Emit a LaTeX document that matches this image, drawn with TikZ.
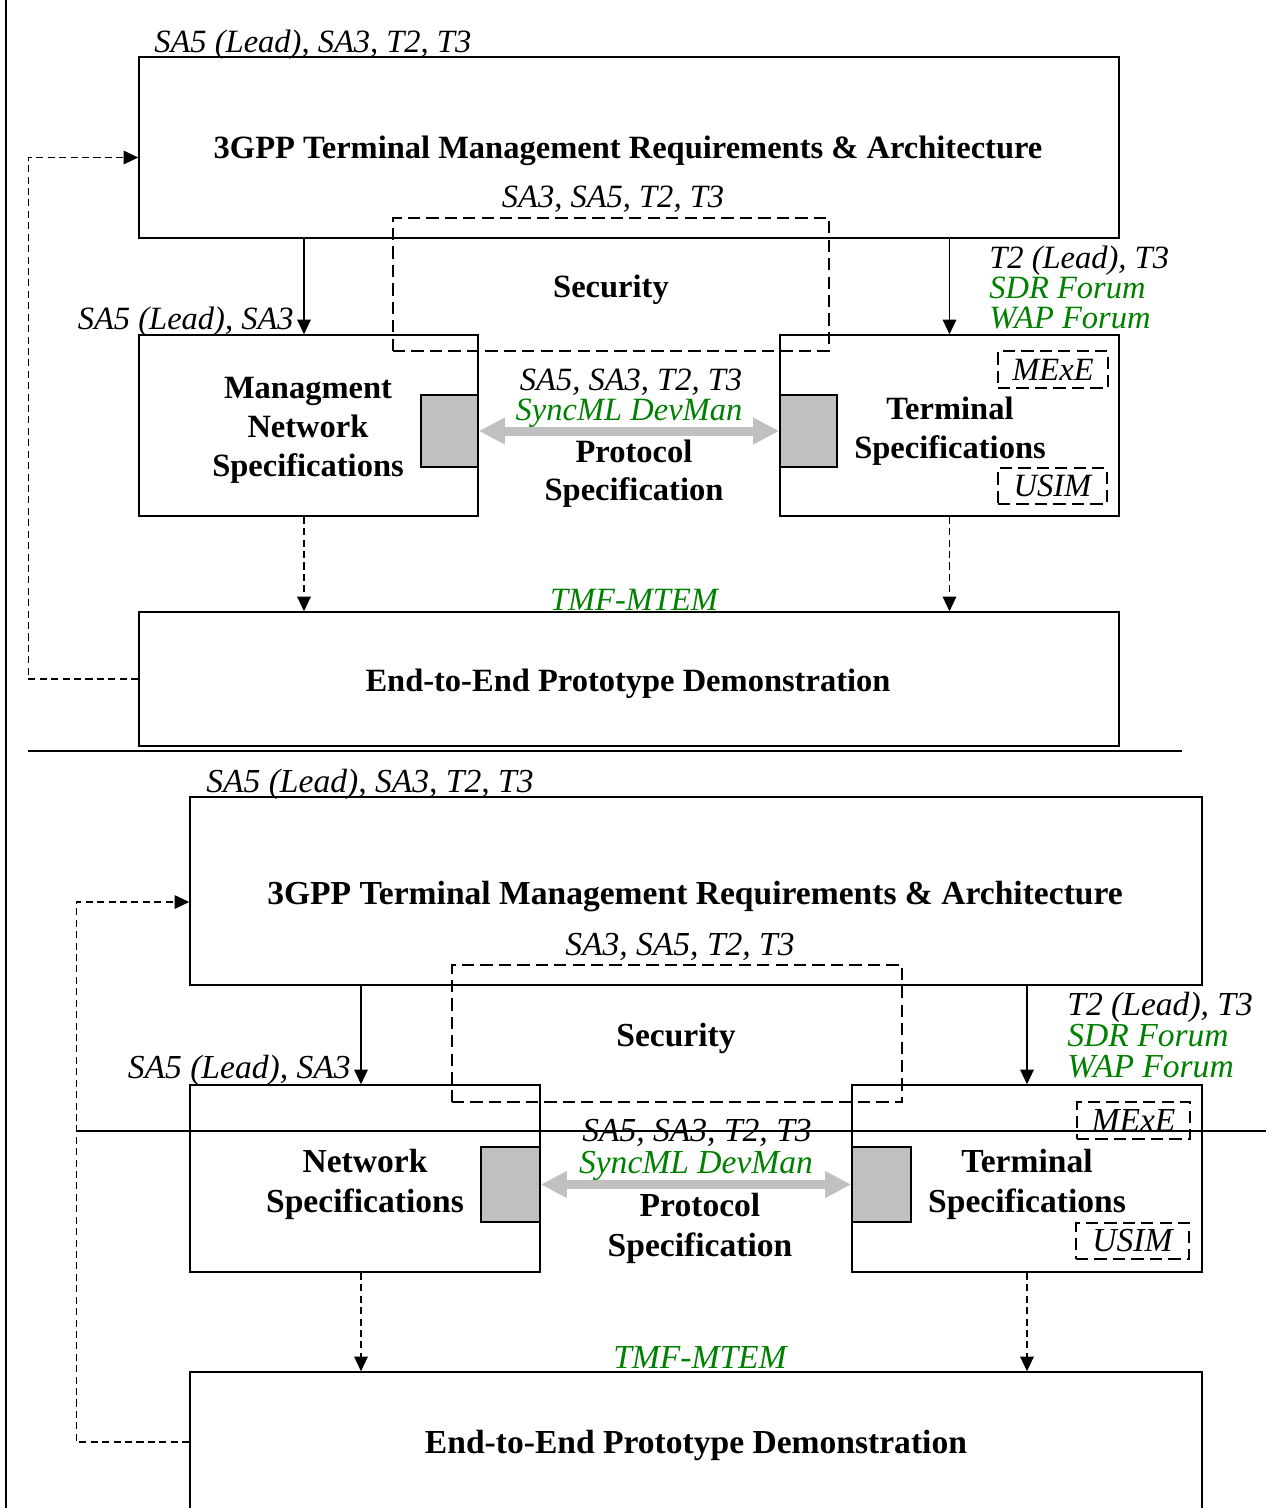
\documentclass[tikz,border=0pt]{standalone}
\usepackage{fontspec}
\setmainfont{Liberation Serif}
\usetikzlibrary{arrows.meta, positioning, fit, calc}

\newcommand{\topsize}{\fontsize{18.5}{22.2}\selectfont}
\newcommand{\botsize}{\fontsize{19.1}{22.8}\selectfont}
\newcommand{\dsize}{\topsize}

\begin{document}
\begin{tikzpicture}[x=0.2mm, y=-0.2mm,
    box/.style={draw, line width=0.9pt, inner sep=0pt},
    btxt/.style={inner sep=0pt, align=center, font=\dsize\bfseries},
    gate/.style={draw, line width=0.9pt, fill=silver, inner sep=0pt},
    dbox/.style={draw, line width=1pt, dash pattern=on 7pt off 3.5pt, inner sep=0pt},
    lbl/.style={inner sep=0pt, font=\dsize\itshape},
    glbl/.style={lbl, text=devgreen},
    feed/.style={-{Triangle[length=2.9mm, width=2.7mm]}, line width=0.6pt},
    dfeed/.style={feed, dash pattern=on 4pt off 2.5pt},
    sync/.style={{Triangle[length=5.2mm, width=5mm]}-{Triangle[length=5.2mm, width=5mm]}, line width=1.8mm, draw=silver},
    rule/.style={line width=1.2pt}]
    % Цвета
    \definecolor{silver}{RGB}{192,192,192}
    \definecolor{devgreen}{RGB}{0,128,0}

    \useasboundingbox (0,0) rectangle (1266,1508);

    %%%% Верхняя схема
    \begin{scope}
    % Требования и архитектура
    \node[box, fit={(139,57) (1119,238)}] (req) {};
    \node[btxt] (reqtxt) at (628,151) {3GPP Terminal Management Requirements \& Architecture};
    \node[lbl, anchor=base west] (reqlbl) at (154,52) {SA5 (Lead), SA3, T2, T3};

    % Безопасность
    \node[dbox, fit={(393,218) (829,351)}] (sec) {};
    \node[btxt] (sectxt) at (611,290) {Security};
    \node[lbl, anchor=base] (seclbl) at (613,207) {SA3, SA5, T2, T3};

    % Спецификации сети и терминала
    \node[box, fit={(139,335) (478,516)}] (net) {};
    \node[btxt] (nettxt) at (308,430) {Managment\\Network\\Specifications};
    \node[gate, fit={(421,395) (478,467)}] (ngate) {};
    \node[box, fit={(780,335) (1119,516)}] (term) {};
    \node[btxt] (termtxt) at (950,431) {Terminal\\Specifications};
    \node[gate, fit={(780,395) (837,467)}] (tgate) {};
    \node[dbox, fit={(998,351) (1108,388)}] (mexe) {};
    \node[lbl] (mexetxt) at (mexe.center) {MExE};
    \node[dbox, fit={(998,468) (1107,504)}] (usim) {};
    \node[lbl] (usimtxt) at (usim.center) {USIM};

    % Подписи
    \node[lbl, anchor=base east] (netlbl) at (294,329) {SA5 (Lead), SA3};
    \node[lbl, anchor=base west] (termlbl) at (989,268) {T2 (Lead), T3};
    \node[glbl, anchor=base west] (sdr) at (989,298) {SDR Forum};
    \node[glbl, anchor=base west] (wap) at (989,328) {WAP Forum};

    % Протокол
    \node[lbl, anchor=base] (protlbl) at (631,390) {SA5, SA3, T2, T3};
    \node[glbl, anchor=base] (syncml) at (629,420) {SyncML DevMan};
    \node[btxt, anchor=base] (prota) at (634,462) {Protocol};
    \node[btxt, anchor=base] (protb) at (634,500) {Specification};

    % Прототип
    \node[box, fit={(139,612) (1119,746)}] (end) {};
    \node[btxt] (endtxt) at (628,684) {End-to-End Prototype Demonstration};
    \node[glbl, anchor=base] (tmf) at (634,610) {TMF-MTEM};

    % Стрелки
    \coordinate (netx) at (304,0);
    \draw[feed] (req.south -| netx) -- (net.north -| netx);
    \draw[feed] (req.south -| term.north) -- (term.north);
    \draw[sync] (ngate.east) -- (tgate.west);
    \draw[dfeed] (net.south -| netx) -- (end.north -| netx);
    \draw[dfeed] (term.south) -- (term.south |- end.north);
    \coordinate (reqin) at ($(req.west)+(0,10)$);
    \draw[dfeed] (end.west) -| ($(reqin)+(-110,0)$) -- (reqin);
    \end{scope}

    %%%% Нижняя схема
    \begin{scope}
    \renewcommand{\dsize}{\botsize}
    % Требования и архитектура
    \node[box, fit={(190,797) (1202,985)}] (reqb) {};
    \node[btxt] (reqtxtb) at (695,897) {3GPP Terminal Management Requirements \& Architecture};
    \node[lbl, anchor=base west] (reqlblb) at (206,792) {SA5 (Lead), SA3, T2, T3};

    % Безопасность
    \node[dbox, fit={(452,965) (902,1102)}] (secb) {};
    \node[btxt] (sectxtb) at (676,1038) {Security};
    \node[lbl, anchor=base] (seclblb) at (680,955) {SA3, SA5, T2, T3};

    % Спецификации сети и терминала
    \node[box, fit={(190,1085) (540,1272)}] (netb) {};
    \node[btxt] (nettxtb) at (365,1184) {Network\\Specifications};
    \node[gate, fit={(481,1147) (540,1222)}] (ngateb) {};
    \node[box, fit={(852,1085) (1202,1272)}] (termb) {};
    \node[btxt] (termtxtb) at (1027,1184) {Terminal\\Specifications};
    \node[gate, fit={(852,1147) (911,1222)}] (tgateb) {};
    \node[dbox, fit={(1077,1102) (1190,1139)}] (mexeb) {};
    \node[lbl] (mexetxtb) at (mexeb.center) {MExE};
    \node[dbox, fit={(1076,1223) (1189,1259)}] (usimb) {};
    \node[lbl] (usimtxtb) at (usimb.center) {USIM};

    % Подписи
    \node[lbl, anchor=base east] (netlblb) at (351,1078) {SA5 (Lead), SA3};
    \node[lbl, anchor=base west] (termlblb) at (1067,1015) {T2 (Lead), T3};
    \node[glbl, anchor=base west] (sdrb) at (1067,1046) {SDR Forum};
    \node[glbl, anchor=base west] (wapb) at (1067,1077) {WAP Forum};

    % Протокол
    \node[lbl, anchor=base] (protlblb) at (697,1141) {SA5, SA3, T2, T3};
    \node[glbl, anchor=base] (syncmlb) at (696,1173) {SyncML DevMan};
    \node[btxt, anchor=base] (protab) at (700,1216) {Protocol};
    \node[btxt, anchor=base] (protbb) at (700,1256) {Specification};

    % Прототип
    \node[box, fit={(190,1372) (1202,1512)}] (endb) {};
    \node[btxt] (endtxtb) at (696,1445) {End-to-End Prototype Demonstration};
    \node[glbl, anchor=base] (tmfb) at (700,1368) {TMF-MTEM};

    % Стрелки
    \coordinate (netxb) at (361,0);
    \draw[feed] (reqb.south -| netxb) -- (netb.north -| netxb);
    \draw[feed] (reqb.south -| termb.north) -- (termb.north);
    \draw[sync] (ngateb.east) -- (tgateb.west);
    \draw[dfeed] (netb.south -| netxb) -- (endb.north -| netxb);
    \draw[dfeed] (termb.south) -- (termb.south |- endb.north);
    \coordinate (reqinb) at ($(reqb.west)+(0,11)$);
    \draw[dfeed] (endb.west) -| ($(reqinb)+(-113,0)$) -- (reqinb);
    \end{scope}

    % Линии
    \coordinate (lefttop) at (6,0);
    \coordinate (leftbot) at (6,1508);
    \draw[rule] (lefttop) -- (leftbot);
    \coordinate (sepa) at (28,751);
    \coordinate (sepb) at (1182,751);
    \draw[rule] (sepa) -- (sepb);
    \coordinate (sepc) at (77,1131);
    \coordinate (sepd) at (1266,1131);
    \draw[rule] (sepc) -- (sepd);
\end{tikzpicture}
\end{document}
